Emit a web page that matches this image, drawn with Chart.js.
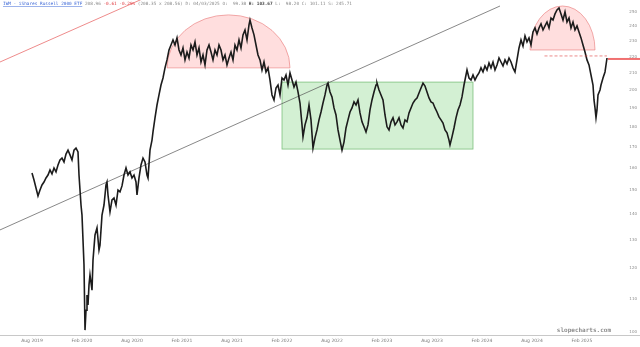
<!DOCTYPE html>
<html>
<head>
<meta charset="utf-8">
<script src="https://cdn.jsdelivr.net/npm/chart.js@4.4.1/dist/chart.umd.min.js"></script>
<style>
  html, body { margin: 0; padding: 0; background: #fff; }
  #wrap { width: 640px; height: 347px; position: relative; }
</style>
</head>
<body>
<div id="wrap"><canvas id="chart" width="640" height="347"></canvas></div>
<script>
// x = months since Jan 2019 (7 = Aug 2019), y = price
const preCrash = [[7.00,157.6],[7.24,154.5],[7.48,151.0],[7.72,147.6],[7.96,150.1],[8.20,152.3],[8.44,153.6],[8.68,155.4],[8.92,156.7],[9.16,159.0],[9.40,157.2],[9.64,159.9],[9.88,158.1],[10.12,161.3],[10.36,163.6],[10.60,164.5],[10.84,162.7],[11.08,166.4],[11.32,168.3],[11.56,166.0],[11.80,163.6],[12.04,168.3],[12.28,169.3],[12.52,167.4]];
const crash = [[12.64,156.7],[12.76,150.1],[12.88,143.8],[13.00,139.7],[13.12,130.1],[13.24,121.1],[13.36,100.5],[13.48,106.4],[13.60,111.1],[13.72,108.0],[13.84,114.4],[13.96,117.7],[14.20,112.7],[14.32,122.8],[14.56,132.0],[14.80,134.7],[15.04,126.4],[15.16,128.2],[15.40,139.7],[15.64,143.8],[15.88,152.3],[16.00,153.6],[16.12,148.0],[16.36,141.0],[16.60,145.9],[16.84,146.7],[17.08,143.8],[17.32,150.1],[17.56,149.3],[17.80,151.9],[18.04,156.7],[18.28,159.9],[18.52,156.7],[18.76,158.1],[19.00,155.4],[19.24,156.7],[19.48,153.6],[19.60,148.0],[19.84,155.4],[20.08,161.3],[20.32,164.5],[20.56,162.7],[20.80,156.7],[20.92,155.4]];
const rally2021 = [[21.16,168.3],[21.40,173.2],[21.52,177.3],[21.76,184.6],[22.00,191.5],[22.24,197.1],[22.48,202.8],[22.72,206.9],[22.96,213.0],[23.20,217.9],[23.44,224.2],[23.68,227.4]];
const topping = [[23.92,230.7],[24.16,227.4],[24.40,232.1],[24.64,224.2],[24.88,221.0],[25.12,225.5],[25.36,217.9],[25.60,222.9],[25.84,219.1],[26.08,227.4],[26.32,224.2],[26.56,229.4],[26.80,221.0],[27.04,225.5],[27.28,216.6],[27.52,221.0],[27.76,214.8],[28.00,224.2],[28.24,227.4],[28.48,222.9],[28.72,217.9],[28.96,224.2],[29.20,221.0],[29.44,227.4],[29.68,224.2],[29.92,217.9],[30.16,221.0],[30.40,214.8],[30.64,219.1],[30.88,222.9],[31.12,217.9],[31.36,227.4],[31.60,224.2],[31.84,230.7],[32.08,225.5],[32.32,234.1],[32.56,237.4],[32.80,230.7],[33.04,240.9],[33.16,244.3],[33.40,238.8],[33.64,234.1],[33.88,227.4],[34.12,221.0],[34.36,217.9],[34.60,211.7],[34.84,216.6],[35.08,210.5],[35.32,213.0],[35.56,205.7],[35.80,197.1],[36.04,194.3],[36.28,201.1],[36.52,202.8],[36.76,197.1],[37.00,206.9],[37.24,205.7],[37.48,208.7],[37.72,202.8],[37.96,209.9],[38.20,205.7]];
const sideways = [[38.44,201.6],[38.68,204.5],[38.92,198.8],[39.16,192.6],[39.40,180.9],[39.52,174.8],[39.76,180.9],[40.00,184.6],[40.24,191.5],[40.48,183.5],[40.72,169.3],[40.96,174.3],[41.20,178.3],[41.44,183.5],[41.68,187.7],[41.92,192.6],[42.16,197.1],[42.40,202.8],[42.52,203.9],[42.76,198.8],[43.00,196.0],[43.24,189.9],[43.48,186.1],[43.72,178.3],[43.96,173.2],[44.20,168.3],[44.44,172.2],[44.68,179.3],[44.92,183.5],[45.16,187.7],[45.40,189.9],[45.64,193.2],[45.88,191.5],[46.12,194.3],[46.36,187.2],[46.60,182.5],[46.84,179.9],[47.08,177.3],[47.32,180.9],[47.56,188.8],[47.80,194.3],[48.04,198.8],[48.28,202.8],[48.40,203.9],[48.64,199.9],[48.88,197.1],[49.12,194.3],[49.36,186.1],[49.60,179.9],[49.84,178.3],[50.08,182.5],[50.32,184.6],[50.56,180.9],[50.80,182.5],[51.04,184.6],[51.28,180.9],[51.52,179.3],[51.76,183.5],[52.00,182.5],[52.24,187.2],[52.48,189.9],[52.72,192.6],[52.96,194.3],[53.20,195.4],[53.44,198.2],[53.68,201.1],[53.92,203.9],[54.16,202.2],[54.40,198.8],[54.64,195.4],[54.88,193.2],[55.12,192.6],[55.36,189.9],[55.60,187.7],[55.84,185.1],[56.08,183.5],[56.32,181.9],[56.56,178.3],[56.80,176.8],[57.04,173.2],[57.16,170.8],[57.40,174.8],[57.64,179.3],[57.88,184.6],[58.12,188.8],[58.36,191.5],[58.60,196.0],[58.84,202.8],[59.08,208.7],[59.20,211.7],[59.44,206.9],[59.68,205.7],[59.92,208.7],[60.16,205.7],[60.40,208.1],[60.64,209.9]];
const breakout = [[60.88,213.0],[61.12,210.5],[61.36,214.2],[61.60,211.7],[61.84,216.0],[62.08,213.0],[62.32,216.6],[62.56,211.7],[62.80,214.8],[63.04,219.1],[63.28,216.6],[63.52,214.2],[63.76,217.9],[64.00,215.4],[64.24,219.1],[64.48,216.6],[64.72,213.0],[64.96,210.5],[65.20,217.9],[65.44,225.5],[65.68,230.7],[65.92,226.7],[66.16,233.4],[66.40,229.4],[66.64,232.1],[66.88,227.4],[67.12,236.1],[67.36,238.8],[67.60,234.7],[67.84,238.8],[68.08,241.6],[68.32,237.4],[68.56,240.2],[68.80,242.9],[69.04,238.8],[69.28,245.7],[69.52,244.3],[69.76,248.6],[70.00,251.4],[70.24,252.9],[70.48,248.6],[70.72,244.3],[70.96,250.0],[71.20,242.9],[71.44,245.7],[71.68,238.8],[71.92,242.9],[72.16,237.4],[72.40,240.2],[72.64,236.1]];
const selloff2025 = [[72.88,232.1],[73.12,227.4],[73.36,222.9],[73.60,217.9],[73.84,214.8],[74.08,208.7],[74.32,202.8],[74.44,194.3],[74.56,189.9],[74.68,184.6],[74.80,188.8],[74.92,197.1],[75.16,199.9],[75.28,202.8],[75.52,206.9],[75.76,210.5],[76.00,219.1]];

const xTickMonths = [7, 13, 19, 25, 31, 37, 43, 49, 55, 61, 67, 73];
const xTickLabels = ['Aug 2019','Feb 2020','Aug 2020','Feb 2021','Aug 2021','Feb 2022','Aug 2022','Feb 2023','Aug 2023','Feb 2024','Aug 2024','Feb 2025'];
const yTicks = [100, 110, 120, 130, 140, 150, 160, 170, 180, 190, 200, 210, 220, 230, 240, 250];

// drawings, in chart units
const trendLine = [[3.16, 133.9], [63.16, 254.3]];
const redLine = [[3.16, 216.6], [21.16, 262.0]];
const dome2021 = { from: 23.2, to: 37.96, base: 213.0, top: 247.9 };
const dome2024 = { from: 66.76, to: 74.56, base: 224.2, top: 254.3 };
const rangeBox = { from: 37.0, to: 59.92, low: 168.8, high: 204.5 };
const dashedLevel = { from: 68.5, to: 76.0, price: 220.4 };
const lastPrice = { at: 76.0, price: 218.5 };

const header = [
  ['IWM - iShares Russell 2000 ETF', '#3a66d6', 'normal', true],
  [' 208.96 ', '#8a8a8a', 'normal'],
  ['-0.61 -0.29%', '#e0393e', 'normal'],
  [' (208.35 x 208.56) D: 04/03/2025 O:  99.38 ', '#8a8a8a', 'normal'],
  ['H: 103.67', '#444', 'bold'],
  [' L:  98.20 C: 101.11 S: 245.71', '#8a8a8a', 'normal']
];

const series = [...preCrash, ...crash, ...rally2021, ...topping, ...sideways, ...breakout, ...selloff2025];
const toXY = arr => arr.map(p => ({ x: p[0], y: p[1] }));

const shapes = {
  id: 'shapes',
  beforeDatasetsDraw(chart) {
    const { ctx, chartArea: a, scales: { x, y } } = chart;
    ctx.save();
    ctx.beginPath();
    ctx.rect(a.left, a.top, a.width, a.height);
    ctx.clip();
    // range box
    const bx0 = x.getPixelForValue(rangeBox.from), bx1 = x.getPixelForValue(rangeBox.to);
    const by0 = y.getPixelForValue(rangeBox.high), by1 = y.getPixelForValue(rangeBox.low);
    ctx.fillStyle = 'rgba(150,220,150,0.42)';
    ctx.strokeStyle = 'rgba(100,180,100,0.8)';
    ctx.lineWidth = 0.8;
    ctx.fillRect(bx0, by0, bx1 - bx0, by1 - by0);
    ctx.strokeRect(bx0, by0, bx1 - bx0, by1 - by0);
    // domes
    for (const d of [dome2021, dome2024]) {
      const x0 = x.getPixelForValue(d.from), x1 = x.getPixelForValue(d.to);
      const yb = y.getPixelForValue(d.base), yt = y.getPixelForValue(d.top);
      ctx.beginPath();
      ctx.ellipse((x0 + x1) / 2, yb, (x1 - x0) / 2, yb - yt, 0, Math.PI, 2 * Math.PI);
      ctx.closePath();
      ctx.fillStyle = 'rgba(255,160,160,0.35)';
      ctx.strokeStyle = 'rgba(230,110,110,0.7)';
      ctx.fill();
      ctx.stroke();
    }
    ctx.restore();
  }
};

const overlay = {
  id: 'overlay',
  afterDraw(chart) {
    const { ctx, chartArea: a, scales: { x, y }, width } = chart;
    ctx.save();
    // dashed level
    const dy = y.getPixelForValue(dashedLevel.price);
    ctx.strokeStyle = 'rgba(225,80,80,0.85)';
    ctx.lineWidth = 0.8;
    ctx.setLineDash([3, 2]);
    ctx.beginPath();
    ctx.moveTo(x.getPixelForValue(dashedLevel.from), dy);
    ctx.lineTo(x.getPixelForValue(dashedLevel.to), dy);
    ctx.stroke();
    ctx.setLineDash([]);
    // last price line
    const ly = y.getPixelForValue(lastPrice.price);
    ctx.strokeStyle = '#f07070';
    ctx.lineWidth = 2;
    ctx.beginPath();
    ctx.moveTo(x.getPixelForValue(lastPrice.at) + 1, ly);
    ctx.lineTo(width, ly);
    ctx.stroke();
    // bottom rule
    ctx.strokeStyle = '#c8c8c8';
    ctx.lineWidth = 1;
    ctx.beginPath();
    ctx.moveTo(0, a.bottom + 0.5);
    ctx.lineTo(width, a.bottom + 0.5);
    ctx.stroke();
    // header
    ctx.textBaseline = 'middle';
    let px = 3;
    for (const [txt, col, weight, underline] of header) {
      ctx.font = weight + ' 4.4px "DejaVu Sans Mono", monospace';
      ctx.fillStyle = col;
      ctx.fillText(txt, px, 4);
      const w = ctx.measureText(txt).width;
      if (underline) {
        ctx.strokeStyle = col;
        ctx.lineWidth = 0.5;
        ctx.beginPath();
        ctx.moveTo(px, 6.5);
        ctx.lineTo(px + w, 6.5);
        ctx.stroke();
      }
      px += w;
    }
    // watermark
    ctx.font = 'bold 6px "DejaVu Sans Mono", monospace';
    ctx.fillStyle = '#8c8c8c';
    ctx.textAlign = 'right';
    ctx.fillText('slopecharts.com', 611, 330.5);
    ctx.restore();
  }
};

new Chart(document.getElementById('chart'), {
  type: 'line',
  data: {
    datasets: [
      { data: toXY(series), borderColor: '#1c1c1c', borderWidth: 1.6, pointRadius: 0, tension: 0 },
      { data: toXY(trendLine), borderColor: '#555', borderWidth: 0.7, pointRadius: 0 },
      { data: toXY(redLine), borderColor: 'rgba(228,70,70,0.9)', borderWidth: 0.7, pointRadius: 0 }
    ]
  },
  options: {
    responsive: false,
    animation: false,
    layout: { padding: { left: 0, top: 0, bottom: 0, right: 3 } },
    plugins: { legend: { display: false }, tooltip: { enabled: false } },
    scales: {
      x: {
        type: 'linear', min: 3.16, max: 76.96,
        grid: { display: false, drawTicks: false }, border: { display: false },
        afterBuildTicks: s => { s.ticks = xTickMonths.map(v => ({ value: v })); },
        ticks: { callback: (v, i) => xTickLabels[i], font: { size: 4.5, family: 'DejaVu Sans' }, color: '#7a7a7a', padding: 3, maxRotation: 0, autoSkip: false },
        afterFit: s => { s.height = 12; s.paddingLeft = 0; s.paddingRight = 0; }
      },
      y: {
        type: 'logarithmic', position: 'right', min: 99.1, max: 258.7,
        grid: { display: false, drawTicks: false }, border: { display: false },
        afterBuildTicks: s => { s.ticks = yTicks.map(v => ({ value: v })); },
        ticks: { callback: v => String(v), font: { size: 4, family: 'DejaVu Sans' }, color: '#8a8a8a', padding: 2, crossAlign: 'far', autoSkip: false },
        afterFit: s => { s.width = 22; s.paddingTop = 0; s.paddingBottom = 0; }
      }
    }
  },
  plugins: [shapes, overlay]
});
</script>
</body>
</html>
